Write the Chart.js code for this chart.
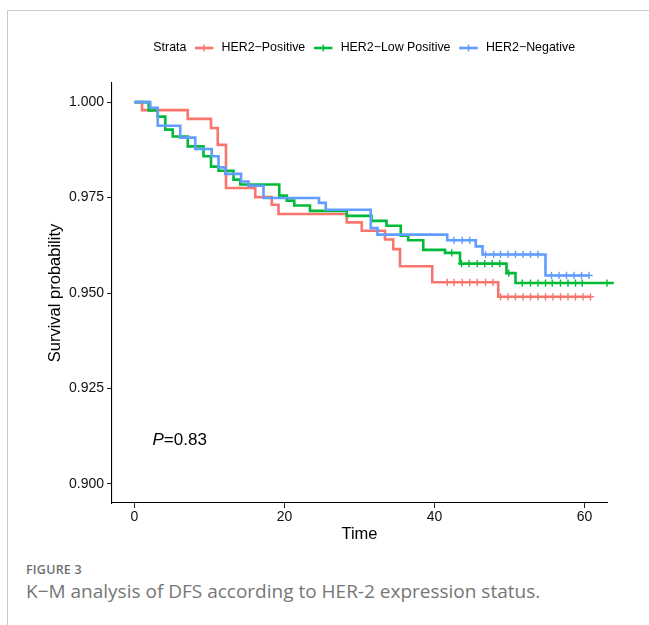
<!DOCTYPE html>
<html>
<head>
<meta charset="utf-8">
<script src="https://cdn.jsdelivr.net/npm/chart.js@4.4.1/dist/chart.umd.min.js"></script>
<style>
  html, body { margin: 0; padding: 0; background: #fff; width: 649px; height: 625px; overflow: hidden; }
  #card { position: absolute; left: 7px; top: 10px; width: 720px; height: 700px;
          border-left: 1px solid #cbcbcb; border-top: 1px solid #cbcbcb; }
  #chartWrap { position: absolute; left: 0; top: 0; width: 649px; height: 560px; }
  #figLabel { position: absolute; left: 26px; top: 562px; font-family: "Open Sans", sans-serif;
              font-size: 12.5px; line-height: 16px; font-weight: 600; color: #707070; letter-spacing: 0.2px; }
  #figCaption { position: absolute; left: 26px; top: 579px; font-family: "Open Sans", sans-serif;
                font-size: 19px; line-height: 24px; font-weight: 400; color: #767676; white-space: nowrap; }
</style>
</head>
<body>
<div id="card"></div>
<div id="chartWrap"><canvas id="km" width="649" height="560"></canvas></div>
<div id="figLabel">FIGURE 3</div>
<div id="figCaption">K−M analysis of DFS according to HER-2 expression status.</div>
<script>
// ---------------- data ----------------
const legendTitle = 'Strata';
const strataNames = ['HER2\u2212Positive', 'HER2\u2212Low Positive', 'HER2\u2212Negative'];
const xTicks = [0, 20, 40, 60];
const yTicks = [0.900, 0.925, 0.950, 0.975, 1.000];
const xTitle = 'Time';
const yTitle = 'Survival probability';
const pLetter = 'P';
const pRest = '=0.83';

// HER2-Positive: step times and survival after each step (last entry = curve end)
const posTime = [0, 1.0, 7.1, 10.2, 11.1, 12.2, 16.1, 18.3, 19.2, 28.3, 30.3, 33.4, 34.5, 35.4, 39.7, 48.5, 60.8];
const posSurv = [1.0, 0.9979, 0.9956, 0.9932, 0.9888, 0.9775, 0.9751, 0.9731, 0.9707, 0.9685, 0.9663, 0.9640, 0.9615, 0.9570, 0.9528, 0.9490, 0.9490];
const posCensor = [41.7, 42.6, 43.7, 44.7, 45.7, 46.8, 47.8,
                   48.8, 49.8, 50.8, 51.8, 52.8, 53.8, 54.8, 55.8, 56.8, 57.8, 58.8, 59.8, 60.8];

// HER2-Low Positive
const lowTime = [0, 1.9, 3.1, 4.1, 5.1, 7.1, 9.2, 10.2, 11.2, 13.2, 14.1, 19.3, 20.3, 21.3, 23.4, 28.3, 31.6, 33.6, 35.5, 36.5, 38.5, 41.4, 43.4, 49.6, 50.8, 63.9];
const lowSurv = [1.0, 0.9978, 0.9962, 0.9928, 0.9910, 0.9884, 0.9858, 0.9831, 0.9820, 0.9797, 0.9784, 0.9755, 0.9742, 0.9729, 0.9715, 0.9702, 0.9689, 0.9676, 0.9650, 0.9638, 0.9613, 0.9605, 0.9577, 0.9552, 0.9526, 0.9526];
const lowCensor = [42.3, 43.6, 44.6, 45.7, 46.7, 47.7, 48.7, 49.9,
                   51.7, 52.8, 53.8, 54.8, 55.7, 56.8, 57.8, 58.8, 59.7, 63.0];

// HER2-Negative
const negTime = [0, 2.1, 3.1, 6.1, 8.1, 10.3, 11.2, 12.1, 14.2, 15.2, 17.2, 24.6, 25.5, 31.5, 32.4, 41.7, 45.5, 46.4, 54.8, 60.6];
const negSurv = [1.0, 0.9985, 0.9938, 0.9907, 0.9877, 0.9858, 0.9829, 0.9812, 0.9792, 0.9781, 0.9749, 0.9736, 0.9718, 0.9670, 0.9653, 0.9638, 0.9622, 0.9601, 0.9546, 0.9546];
const negCensor = [42.6, 43.7, 44.7, 46.8, 47.9, 48.8, 49.8, 50.8, 51.8, 52.8, 53.8,
                   55.6, 56.6, 57.6, 58.6, 59.6, 60.6];

// ---------------- styles ----------------
const colors = ['#F8766D', '#00BA38', '#619CFF'];
const FONT = '"Liberation Sans", Arial, Helvetica, sans-serif';
const pPos = [2.4, 0.9115];

function stepAt(times, surv, t) {
  let v = surv[0];
  for (let i = 0; i < times.length; i++) { if (times[i] <= t) v = surv[i]; }
  return v;
}
function curve(times, surv) { return times.map((t, i) => ({ x: t, y: surv[i] })); }
function marks(times, surv, cens) { return cens.map(t => ({ x: t, y: stepAt(times, surv, t) })); }

const groups = [
  { t: posTime, s: posSurv, c: posCensor },
  { t: lowTime, s: lowSurv, c: lowCensor },
  { t: negTime, s: negSurv, c: negCensor }
];

const datasets = [];
groups.forEach((g, k) => {
  const base = (2 - k) * 2;  // negative on top, then low, then positive
  datasets.push({
    label: strataNames[k], data: curve(g.t, g.s), borderColor: colors[k], borderWidth: 2.6,
    pointRadius: 0, stepped: true, fill: false, clip: false, order: base + 1
  });
  datasets.push({
    label: strataNames[k] + ' censor', data: marks(g.t, g.s, g.c), showLine: false,
    pointStyle: 'cross', pointRadius: 3.6, pointBorderWidth: 1.4, borderColor: colors[k],
    pointBorderColor: colors[k], clip: false, order: base
  });
});

const annot = {
  id: 'annot',
  afterDraw(chart) {
    const ctx = chart.ctx;
    ctx.save();
    // p-value
    const xs = chart.scales.x, ys = chart.scales.y;
    let px = xs.getPixelForValue(pPos[0]);
    const py = ys.getPixelForValue(pPos[1]);
    ctx.fillStyle = '#000';
    ctx.textBaseline = 'middle';
    ctx.textAlign = 'left';
    ctx.font = 'italic 17px ' + FONT;
    ctx.fillText(pLetter, px, py);
    px += ctx.measureText(pLetter).width;
    ctx.font = '17px ' + FONT;
    ctx.fillText(pRest, px, py);

    // legend
    const ly = 48;
    let lx = 153.3;
    ctx.font = '12.4px ' + FONT;
    ctx.fillStyle = '#000';
    ctx.fillText(legendTitle, lx, ly);
    lx += ctx.measureText(legendTitle).width + 8.6;
    strataNames.forEach((name, k) => {
      ctx.strokeStyle = colors[k];
      ctx.lineWidth = 2.6;
      ctx.beginPath(); ctx.moveTo(lx, ly); ctx.lineTo(lx + 18.4, ly); ctx.stroke();
      ctx.lineWidth = 1.4;
      ctx.beginPath(); ctx.moveTo(lx + 9.2, ly - 3.5); ctx.lineTo(lx + 9.2, ly + 3.5); ctx.stroke();
      lx += 18.4 + 8.2;
      ctx.fillStyle = '#000';
      ctx.fillText(name, lx, ly);
      lx += ctx.measureText(name).width + 8.8;
    });
    ctx.restore();
  }
};

new Chart(document.getElementById('km'), {
  type: 'line',
  data: { datasets },
  options: {
    responsive: false,
    animation: false,
    layout: { padding: { left: 42, right: 42, top: 83, bottom: 12 } },
    plugins: { legend: { display: false }, tooltip: { enabled: false } },
    scales: {
      x: {
        type: 'linear', min: -3, max: 63,
        afterBuildTicks: s => { s.ticks = xTicks.map(v => ({ value: v })); },
        afterFit: s => { s.height = 45; },
        grid: { drawOnChartArea: false, drawTicks: true, tickLength: 5, color: '#222', lineWidth: 1 },
        border: { display: true, color: '#000', width: 1.1 },
        ticks: { font: { size: 14, family: FONT }, color: '#111', padding: 1, maxRotation: 0, autoSkip: false,
                 callback: v => String(v) },
        title: { display: true, text: xTitle, font: { size: 16.5, family: FONT }, color: '#000', padding: { top: 0, bottom: 4 } }
      },
      y: {
        type: 'linear', min: 0.895, max: 1.005,
        afterBuildTicks: s => { s.ticks = yTicks.map(v => ({ value: v })); },
        afterFit: s => { s.width = 70; },
        grid: { drawOnChartArea: false, drawTicks: true, tickLength: 5, color: '#222', lineWidth: 1 },
        border: { display: true, color: '#000', width: 1.1 },
        ticks: { font: { size: 14, family: FONT }, color: '#111', padding: 3, autoSkip: false,
                 callback: v => Number(v).toFixed(3) },
        title: { display: true, text: yTitle, font: { size: 16.5, family: FONT }, color: '#000', padding: { top: 4, bottom: 0 } }
      }
    }
  },
  plugins: [annot]
});
</script>
</body>
</html>
